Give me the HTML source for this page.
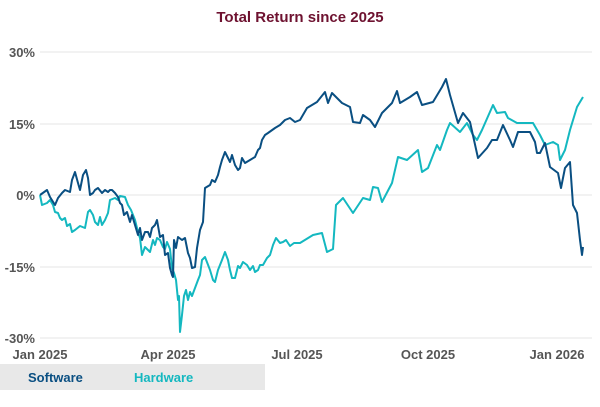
<!DOCTYPE html>
<html><head><style>
body{margin:0;width:600px;height:402px;background:#fff;font-family:"Liberation Sans",sans-serif;overflow:hidden}
</style></head><body>
<svg width="600" height="402" xmlns="http://www.w3.org/2000/svg" font-family="Liberation Sans, sans-serif">
<text x="300" y="22" text-anchor="middle" font-size="15" font-weight="bold" fill="#6e1230">Total Return since 2025</text>
<g stroke="#e6e6e6" stroke-width="1">
<line x1="40" x2="592" y1="52" y2="52"/><line x1="40" x2="592" y1="124" y2="124"/><line x1="40" x2="592" y1="195" y2="195"/><line x1="40" x2="592" y1="267" y2="267"/><line x1="40" x2="592" y1="338" y2="338"/>
</g>
<g font-size="13" font-weight="bold" fill="#555" text-anchor="end">
<text x="35" y="57">30%</text><text x="35" y="129">15%</text><text x="35" y="200">0%</text><text x="35" y="272">-15%</text><text x="35" y="343">-30%</text>
</g>
<g font-size="13" font-weight="bold" fill="#555" text-anchor="middle">
<text x="40" y="359">Jan 2025</text><text x="168" y="359">Apr 2025</text><text x="297" y="359">Jul 2025</text><text x="428" y="359">Oct 2025</text><text x="557" y="359">Jan 2026</text>
</g>
<polyline fill="none" stroke="#14b8c0" stroke-width="2" stroke-linejoin="round" points="40,195 42,205 47,203 50,200 53,205 55,212 58,213 60,218 62,220 65,218 67,226 70,224 72,232 75,230 80,226 85,228 88,212 90,210 93,215 95,222 98,225 100,217 102,225 105,220 108,213 110,200 115,198 118,200 120,196 125,197 128,205 131,210 135,220 138,232 140,238 142,255 145,247 148,250 150,252 153,240 155,245 157,238 160,240 163,247 165,249 167,242 170,249 172,268 174,273 176,280 178,300 179,296 180,332 182,315 184,296 186,290 188,300 190,292 192,296 195,288 198,280 200,275 202,260 205,257 210,270 213,280 215,282 218,270 220,265 222,260 225,252 228,260 230,270 232,278 235,278 238,266 240,268 243,262 247,265 250,270 253,266 255,272 258,270 260,265 263,265 267,258 270,255 273,245 276,238 280,243 283,242 286,240 290,246 294,243 300,243 313,235 322,233 327,252 333,249 336,205 343,198 353,213 363,198 370,200 373,187 378,188 382,202 392,183 398,157 407,160 418,150 422,172 428,168 437,145 440,150 447,130 450,123 460,132 467,123 473,135 477,140 482,130 493,105 497,113 505,112 508,118 517,123 533,123 540,135 545,145 553,142 558,145 560,160 565,150 570,130 577,107 583,97"/>
<polyline fill="none" stroke="#0a4f82" stroke-width="2" stroke-linejoin="round" points="40,195 47,190 50,197 55,205 58,198 62,193 65,190 70,192 72,180 75,172 78,183 80,190 83,175 86,170 88,178 90,195 93,193 95,190 98,188 102,193 105,190 108,192 110,190 112,190 115,193 118,197 120,203 122,205 124,215 127,212 130,222 132,215 135,225 138,235 140,228 142,240 145,232 148,232 150,237 152,228 155,225 157,220 160,237 163,235 165,255 168,253 170,268 172,275 173,277 174,240 176,248 178,237 182,240 185,238 188,253 190,258 192,268 195,267 197,248 200,230 203,222 205,188 210,185 212,180 215,182 218,175 220,167 222,160 225,152 228,158 230,162 232,155 235,165 238,170 240,168 242,158 245,163 250,160 255,157 258,150 260,148 262,140 265,135 268,133 275,128 280,125 285,120 290,118 295,122 300,120 307,108 317,102 325,92 328,103 332,93 342,103 350,107 353,122 360,123 363,115 370,120 375,127 382,113 392,103 397,91 400,103 410,97 417,92 422,105 433,102 442,87 446,79 450,95 458,123 463,113 470,122 478,158 487,148 492,140 497,140 503,125 510,140 513,147 518,132 530,132 535,142 537,153 540,153 545,143 550,167 558,173 561,188 565,168 570,162 573,205 577,213 580,240 582,255 583,247"/>
<rect x="0" y="364" width="265" height="26" fill="#e8e8e8"/>
<text x="28" y="382" font-size="13" font-weight="bold" fill="#0a4f82">Software</text>
<text x="134" y="382" font-size="13" font-weight="bold" fill="#14b8c0">Hardware</text>
</svg>
</body></html>
